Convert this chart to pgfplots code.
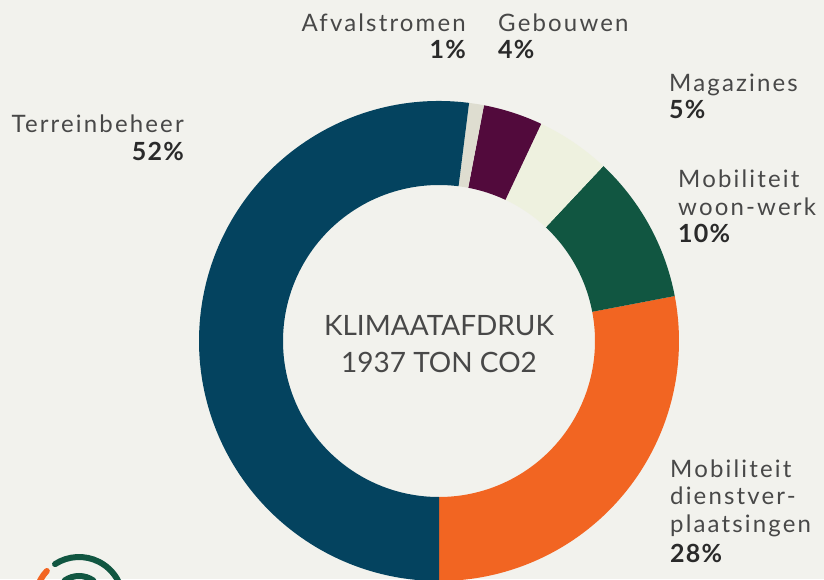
\documentclass[border=0pt]{standalone}
\usepackage{pgfplots}
\usepackage{pgfplotstable}
\pgfplotsset{compat=1.18}
\usepackage{fontspec}
\setmainfont{Lato}
\newfontfamily\labfont[LetterSpace=9]{Lato}
\newfontfamily\pctfont[LetterSpace=5]{Lato}
\definecolor{bgc}{HTML}{F2F2ED}
\definecolor{cBlue}{HTML}{04435F}
\definecolor{cOrange}{HTML}{F26522}
\definecolor{cGreen}{HTML}{115641}
\definecolor{cPurple}{HTML}{520A3C}
\definecolor{cMag}{HTML}{EEF1DF}
\definecolor{cAfval}{HTML}{DEDDD0}
\definecolor{txt}{HTML}{484848}
\definecolor{txtb}{HTML}{2A2A2A}

\pgfplotstableread[col sep=comma]{
name,value,col
Mobiliteit dienstverplaatsingen,28,cOrange
Mobiliteit woon-werk,10,cGreen
Magazines,5,cMag
Gebouwen,4,cPurple
Afvalstromen,1,cAfval
Terreinbeheer,52,cBlue
}\piedata

\begin{document}
\begin{tikzpicture}[
  lab/.style={font=\labfont\fontsize{24}{24}\selectfont, text=txt, inner sep=0pt},
  pct/.style={font=\pctfont\bfseries\fontsize{25}{25}\selectfont, text=txtb, inner sep=0pt},
  ctr/.style={font=\fontsize{28}{28}\selectfont, text=txt, inner sep=0pt, anchor=base},
]
\useasboundingbox (0,0) rectangle (824pt,579pt);
\clip (0,0) rectangle (824pt,579pt);
\fill[bgc] (0,0) rectangle (824pt,579pt);
\begin{axis}[
  scale only axis, width=824pt, height=579pt,
  xmin=0, xmax=824, ymin=0, ymax=579,
  hide axis, clip=false,
]
\pgfplotsextra{
  \xdef\angcur{-90}
  \pgfplotstablegetrowsof{\piedata}
  \pgfmathtruncatemacro\nrows{\pgfplotsretval-1}
  \foreach \i in {0,...,\nrows}{
    \pgfplotstablegetelem{\i}{value}\of\piedata \let\segval\pgfplotsretval
    \pgfplotstablegetelem{\i}{col}\of\piedata \let\segcol\pgfplotsretval
    \pgfmathsetmacro\angnext{\angcur+3.6*\segval}
    \fill[\segcol] ([shift={(\angcur:240pt)}]axis cs:439,238)
      arc[start angle=\angcur, end angle=\angnext, radius=240pt]
      -- ([shift={(\angnext:156pt)}]axis cs:439,238)
      arc[start angle=\angnext, end angle=\angcur, radius=156pt] -- cycle;
    \xdef\angcur{\angnext}
  }
  % logo (decoration)
  \draw[cGreen, line width=6pt, line cap=round] ([shift={(123:44pt)}]axis cs:79,-22) arc[start angle=123, end angle=20, radius=44pt];
  \draw[cOrange, line width=6pt, line cap=round] ([shift={(137:44pt)}]axis cs:79,-22) arc[start angle=137, end angle=165, radius=44pt];
  \draw[cGreen, line width=6pt, line cap=round] ([shift={(125:25pt)}]axis cs:79,-22) arc[start angle=125, end angle=55, radius=25pt];
}
% centre text
\node[ctr] at (axis cs:439,244) {KLIMAATAFDRUK};
\node[ctr] at (axis cs:439,207) {1937 TON CO2};
% labels
\node[lab, anchor=base east] at (axis cs:466,547.3) {Afvalstromen};
\node[pct, anchor=base east] at (axis cs:466,520) {1\%};
\node[lab, anchor=base west] at (axis cs:498,547.3) {Gebouwen};
\node[pct, anchor=base west] at (axis cs:498,520) {4\%};
\node[lab, anchor=base west] at (axis cs:669,487) {Magazines};
\node[pct, anchor=base west] at (axis cs:669,460) {5\%};
\node[lab, anchor=base west] at (axis cs:678,391) {Mobiliteit};
\node[lab, anchor=base west] at (axis cs:678,363) {woon-werk};
\node[pct, anchor=base west] at (axis cs:678,336) {10\%};
\node[lab, anchor=base west] at (axis cs:670,102) {Mobiliteit};
\node[lab, anchor=base west] at (axis cs:670,75) {dienstver-};
\node[lab, anchor=base west] at (axis cs:670,47) {plaatsingen};
\node[pct, anchor=base west] at (axis cs:670,17) {28\%};
\node[lab, anchor=base east] at (axis cs:184,446) {Terreinbeheer};
\node[pct, anchor=base east] at (axis cs:184,418) {52\%};
\end{axis}
\end{tikzpicture}
\end{document}
